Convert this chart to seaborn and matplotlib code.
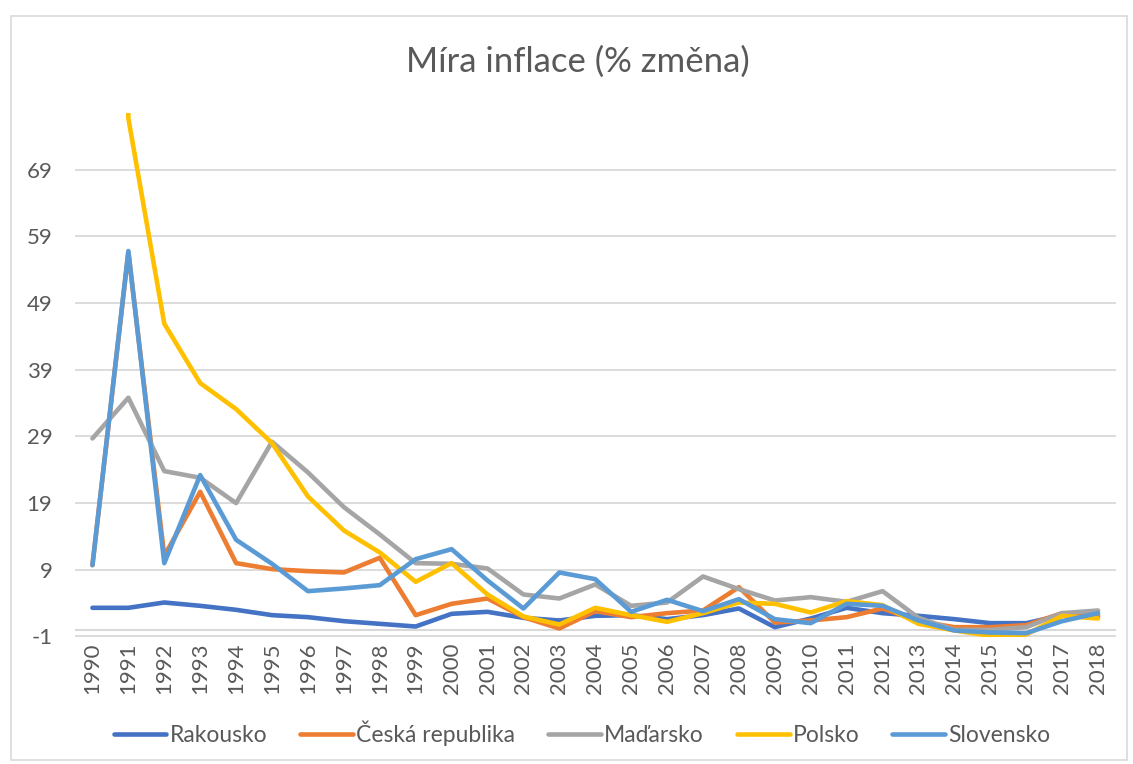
import numpy as np
import pandas as pd
import matplotlib
matplotlib.use("Agg")
import matplotlib.pyplot as plt
import seaborn as sns
from matplotlib.patches import Rectangle

years = list(range(1990, 2019))
countries = ["Rakousko", "Česká republika", "Maďarsko", "Polsko", "Slovensko"]

rakousko = [3.3, 3.3, 4.1, 3.6, 3.0, 2.2, 1.9, 1.3, 0.9, 0.5, 2.4, 2.7, 1.8, 1.4, 2.1,
            2.2, 1.6, 2.2, 3.2, 0.4, 1.7, 3.3, 2.5, 2.1, 1.6, 1.0, 1.0, 2.2, 2.0]
cesko = [9.7, 56.6, 11.1, 20.7, 10.0, 9.1, 8.8, 8.6, 10.8, 2.2, 3.9, 4.7, 1.9, 0.2, 2.8,
         1.9, 2.5, 2.9, 6.4, 1.1, 1.4, 1.9, 3.2, 1.3, 0.4, 0.4, 0.7, 2.5, 2.2]
madarsko = [28.7, 34.8, 23.8, 22.8, 19.0, 28.2, 23.6, 18.4, 14.3, 10.0, 9.9, 9.2, 5.3, 4.7, 6.8,
            3.6, 4.1, 8.0, 6.1, 4.4, 4.9, 4.2, 5.8, 1.8, 0.0, 0.0, 0.4, 2.5, 2.9]
polsko = [555.0, 76.7, 45.9, 37.0, 33.1, 28.0, 20.0, 14.9, 11.6, 7.2, 10.0, 5.3, 2.0, 0.8, 3.3,
          2.2, 1.2, 2.5, 4.1, 3.9, 2.6, 4.3, 3.7, 0.9, -0.1, -0.9, -0.7, 2.1, 1.7]
slovensko = [9.7, 56.8, 10.0, 23.2, 13.5, 9.9, 5.8, 6.2, 6.7, 10.6, 12.1, 7.4, 3.2, 8.6, 7.6,
             2.7, 4.5, 2.8, 4.6, 1.6, 1.0, 3.9, 3.6, 1.4, -0.1, -0.4, -0.5, 1.3, 2.5]

series = [rakousko, cesko, madarsko, polsko, slovensko]
colors = ["#4472C4", "#ED7D31", "#A5A5A5", "#FFC000", "#5B9BD5"]
y_ticks = [-1, 9, 19, 29, 39, 49, 59, 69]

df = pd.DataFrame({
    "year": np.tile(years, len(countries)),
    "value": np.concatenate(series),
    "country": np.repeat(countries, len(years)),
})

sns.set_style("white")
plt.rcParams["font.family"] = ["Lato", "DejaVu Sans"]

fig = plt.figure(figsize=(11.33, 7.64), dpi=100)
ax = fig.add_axes([74.5 / 1133, 1 - 636.5 / 764, (1116 - 74.5) / 1133, (636.5 - 113) / 764])

sns.lineplot(data=df, x="year", y="value", hue="country", hue_order=countries,
             palette=colors, linewidth=3.3, ax=ax, legend=True)

ax.set_xlim(1989.5, 2018.5)
ax.set_ylim(-1, 77.5)
ax.set_yticks(y_ticks)
ax.set_yticklabels([str(t) for t in y_ticks])
ax.set_xticks(years)
ax.set_xticklabels([str(y) for y in years], rotation=90)
ax.tick_params(axis="y", length=0, pad=16, labelsize=16, labelcolor="#595959")
ax.tick_params(axis="x", length=0, pad=4, labelsize=16, labelcolor="#595959")
ax.set_xlabel("")
ax.set_ylabel("")
for s in ax.spines.values():
    s.set_visible(False)
ax.grid(axis="y", color="#D9D9D9", linewidth=1.3)
ax.grid(axis="x", visible=False)
ax.set_axisbelow(True)
ax.axhline(0, color="#D9D9D9", linewidth=1.5, zorder=0.5)

handles, labels = ax.get_legend_handles_labels()
ax.get_legend().remove()
leg = fig.legend(handles, labels, loc="center", bbox_to_anchor=(582 / 1133, 1 - 733 / 764),
                 ncol=5, frameon=False, fontsize=16.5, handlelength=2.3,
                 handletextpad=0.13, columnspacing=1.45)
for t in leg.get_texts():
    t.set_color("#595959")
for h in leg.get_lines():
    h.set_linewidth(3.3)

fig.text(578 / 1133, 1 - 62 / 764, "Míra inflace (% změna)", ha="center", va="center",
         fontsize=25, color="#595959")

fig.patches.append(Rectangle((11 / 1133, 1 - 760 / 764), (1127 - 11) / 1133, (760 - 16) / 764,
                             transform=fig.transFigure, fill=False, edgecolor="#D9D9D9",
                             linewidth=1.2))

fig.savefig("out.png", dpi=100)
